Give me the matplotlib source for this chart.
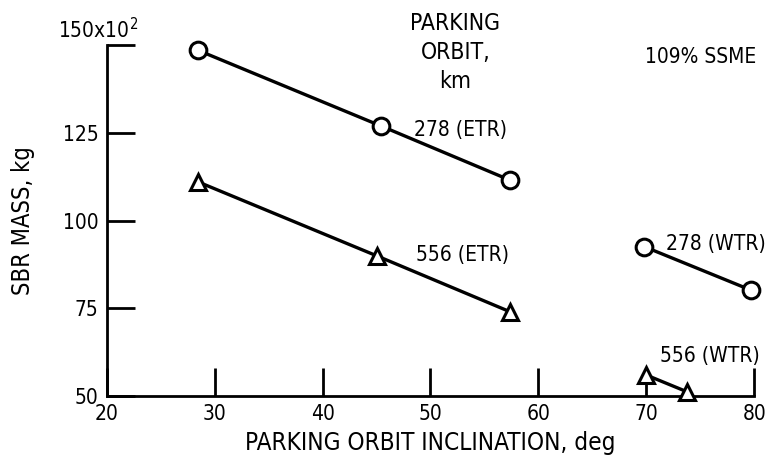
import matplotlib.pyplot as plt

# SBR mass (x10^2 kg) vs parking orbit inclination (deg)
incl_278_etr = [28.5, 45.4, 57.4]
mass_278_etr = [148.5, 127.0, 111.5]
incl_556_etr = [28.5, 45.0, 57.4]
mass_556_etr = [111.0, 90.0, 74.0]
incl_278_wtr = [69.8, 79.7]
mass_278_wtr = [92.6, 80.2]
incl_556_wtr = [70.0, 73.8]
mass_556_wtr = [56.0, 51.2]

x_ticks = [20, 30, 40, 50, 60, 70, 80]
y_ticks = [50, 75, 100, 125, 150]
y_tick_labels = ['50', '75', '100', '125', '']

plt.rcParams['font.family'] = ['DejaVu Sans']
plt.rcParams['font.stretch'] = 'condensed'
plt.rcParams['mathtext.fontset'] = 'dejavusans'

fs = 15

fig = plt.figure(figsize=(7.68, 4.66), dpi=100)
ax = fig.add_axes([0.139, 0.150, 0.843, 0.753])

line_kw = dict(color='black', lw=2.4, markersize=12, markerfacecolor='white',
               markeredgecolor='black', markeredgewidth=2.2, clip_on=False, zorder=3)
ax.plot(incl_278_etr, mass_278_etr, marker='o', **line_kw)
ax.plot(incl_556_etr, mass_556_etr, marker='^', **line_kw)
ax.plot(incl_278_wtr, mass_278_wtr, marker='o', **line_kw)
ax.plot(incl_556_wtr, mass_556_wtr, marker='^', **line_kw)

ax.set_xlim(20, 80)
ax.set_ylim(50, 150)
ax.spines['top'].set_visible(False)
ax.spines['right'].set_visible(False)
ax.spines['left'].set_linewidth(2)
ax.spines['bottom'].set_linewidth(2)

ax.set_xticks(x_ticks)
ax.set_yticks(y_ticks)
ax.set_yticklabels(y_tick_labels)
ax.tick_params(direction='in', length=20, width=2, labelsize=fs, pad=6)

ax.text(19.2, 150.8, '150x10$^2$', ha='center', va='bottom', fontsize=fs, clip_on=False)

ax.set_xlabel('PARKING ORBIT INCLINATION, deg', fontsize=17.5, labelpad=5)
ax.set_ylabel('SBR MASS, kg', fontsize=17, labelpad=20)

ax.text(52.3, 159.5, 'PARKING\nORBIT,\nkm', ha='center', va='top', fontsize=16.5,
        linespacing=1.35, clip_on=False)
ax.text(75.0, 146.5, '109% SSME', ha='center', va='center', fontsize=fs, clip_on=False)
ax.text(48.5, 125.7, '278 (ETR)', ha='left', va='center', fontsize=fs)
ax.text(48.7, 90.3, '556 (ETR)', ha='left', va='center', fontsize=fs)
ax.text(71.8, 93.4, '278 (WTR)', ha='left', va='center', fontsize=fs, clip_on=False)
ax.text(71.3, 61.4, '556 (WTR)', ha='left', va='center', fontsize=fs, clip_on=False)

fig.savefig('out.png', dpi=100)
